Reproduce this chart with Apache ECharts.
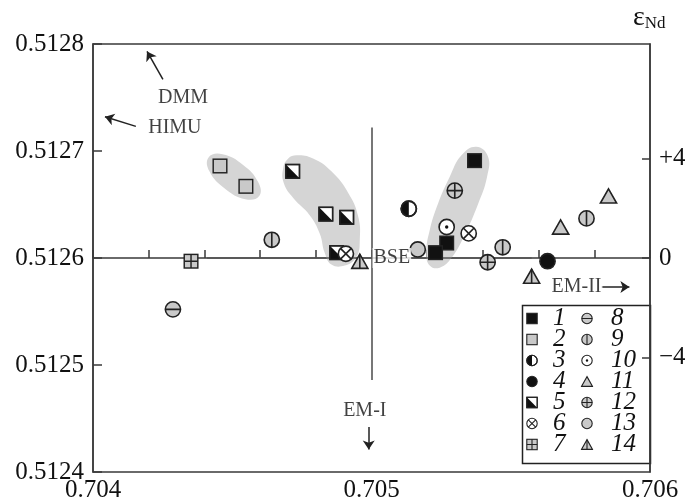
<!DOCTYPE html>
<html>
<head>
<meta charset="utf-8">
<script src="https://cdn.jsdelivr.net/npm/echarts@6/dist/echarts.min.js"></script>
<style>
  html, body { margin: 0; padding: 0; background: #fff; }
  #chart { width: 685px; height: 501px; }
</style>
</head>
<body>
<div id="chart"></div>
<script>
// 87Sr/86Sr vs 143Nd/144Nd, one array per sample group
var s1 = [[0.70537, 0.512691], [0.70527, 0.512614], [0.70523, 0.512605]];
var s2 = [[0.704456, 0.512686], [0.704549, 0.512667]];
var s3 = [[0.705134, 0.512646]];
var s4 = [[0.705632, 0.512597]];
var s5 = [[0.704717, 0.512681], [0.704836, 0.512641], [0.704911, 0.512638], [0.704875, 0.512605]];
var s6 = [[0.704908, 0.512604], [0.705349, 0.512623]];
var s7 = [[0.704352, 0.512597]];
var s8 = [[0.704287, 0.512552]];
var s9 = [[0.704642, 0.512617], [0.705471, 0.51261], [0.705772, 0.512637]];
var s10 = [[0.70527, 0.512629]];
var s11 = [[0.705679, 0.512629], [0.705851, 0.512658]];
var s12 = [[0.705299, 0.512663], [0.705417, 0.512596]];
var s13 = [[0.705166, 0.512608]];
var s14 = [[0.704958, 0.512597], [0.705575, 0.512583]];

var groupNames = ['1', '2', '3', '4', '5', '6', '7', '8', '9', '10', '11', '12', '13', '14'];
var groupData = [s1, s2, s3, s4, s5, s6, s7, s8, s9, s10, s11, s12, s13, s14];

// grey fields (outlines in data units)
var fieldA = [[0.704597, 0.512658], [0.704547, 0.512655], [0.704473, 0.512665], [0.704418, 0.512681],
  [0.704415, 0.512694], [0.704465, 0.512697], [0.704539, 0.512687], [0.704593, 0.512671]];
var fieldB = [[0.704731, 0.512696], [0.70479, 0.512693], [0.704856, 0.512681], [0.704916, 0.512661],
  [0.704952, 0.512639], [0.704958, 0.512617], [0.704946, 0.512601], [0.704904, 0.512593],
  [0.704856, 0.512594], [0.704832, 0.512605], [0.704814, 0.512623], [0.704778, 0.51264],
  [0.704719, 0.512656], [0.704685, 0.51267], [0.704683, 0.512684], [0.704701, 0.512693]];
var fieldC = [[0.705376, 0.512704], [0.705418, 0.512695], [0.705415, 0.512676], [0.705382, 0.51265],
  [0.705335, 0.512622], [0.705287, 0.5126], [0.705245, 0.512591], [0.705209, 0.512593],
  [0.705197, 0.512605], [0.705209, 0.512626], [0.705239, 0.512651], [0.705281, 0.512676],
  [0.705323, 0.512696]];
var fields = [fieldA, fieldB, fieldC];

// BSE cross and reservoir arrows
var bseLines = [
  [[0.704409, 0.5126], [0.705575, 0.5126]],
  [[0.705, 0.512722], [0.705, 0.512486]]
];
var arrows = [
  [[0.704251, 0.512767], [0.704194, 0.512793]],
  [[0.704154, 0.512723], [0.704043, 0.512732]],
  [[0.70499, 0.512442], [0.70499, 0.512421]],
  [[0.705826, 0.512573], [0.705926, 0.512573]]
];
var noteNames = ['DMM', 'HIMU', 'EM-I', 'EM-II', 'BSE'];
var notePoints = [[0.704323, 0.51275], [0.704294, 0.512722], [0.704976, 0.512457], [0.705736, 0.512573], [0.705073, 0.5126]];

var epsTicks = [-4, 0, 4];

var font = '"Liberation Serif", "Times New Roman", serif';
var ink = '#111';
var grey = '#c9c9c9';
var axisInk = '#3a3a3a';

function svg(body) {
  return 'image://data:image/svg+xml;charset=utf-8,' + encodeURIComponent(
    '<svg xmlns="http://www.w3.org/2000/svg" width="60" height="60" viewBox="0 0 20 20">' + body + '</svg>');
}
var S = 'stroke="#222" stroke-width="1.7"';
function rect(f) { return '<rect x="2" y="2" width="16" height="16" fill="' + f + '" ' + S + '/>'; }
function circ(f) { return '<circle cx="10" cy="10" r="8" fill="' + f + '" ' + S + '/>'; }
function tri(f) { return '<polygon points="10,2.5 18.5,17.5 1.5,17.5" fill="' + f + '" ' + S + '/>'; }
function ln(a, b, c, d) { return '<line x1="' + a + '" y1="' + b + '" x2="' + c + '" y2="' + d + '" ' + S + '/>'; }

var icons = [
  svg(rect(ink)),
  svg(rect(grey)),
  svg(circ('#fff') + '<path d="M10 2A8 8 0 0 0 10 18Z" fill="#111"/>' + circ('none')),
  svg(circ(ink)),
  svg(rect('#fff') + '<polygon points="2,2 2,18 18,18" fill="#111"/>' + rect('none')),
  svg(circ('#fff') + ln(4.3, 4.3, 15.7, 15.7) + ln(15.7, 4.3, 4.3, 15.7)),
  svg(rect(grey) + ln(10, 2, 10, 18) + ln(2, 10, 18, 10)),
  svg(circ(grey) + ln(2, 10, 18, 10)),
  svg(circ(grey) + ln(10, 2, 10, 18)),
  svg(circ('#fff') + '<circle cx="10" cy="10" r="1.8" fill="#111"/>'),
  svg(tri(grey)),
  svg(circ(grey) + ln(10, 2, 10, 18) + ln(2, 10, 18, 10)),
  svg(circ(grey)),
  svg(tri(grey) + ln(10, 2.5, 10, 17.5))
];
var sizes = [17, 17, 19, 19, 17, 19, 17, 19, 19, 19, 19, 19, 19, 19];

var chart = echarts.init(document.getElementById('chart'));

var series = [];
series.push({
  type: 'custom',
  name: 'fields',
  silent: true,
  clip: false,
  data: fields.map(function (f) { return f[0]; }),
  renderItem: function (params, api) {
    var pts = fields[params.dataIndex].map(function (p) { return api.coord(p); });
    return { type: 'polygon', shape: { points: pts, smooth: 0.45 }, style: { fill: '#d5d5d5' } };
  },
  z: 1
});
series.push({
  type: 'lines',
  name: 'bse',
  coordinateSystem: 'cartesian2d',
  silent: true,
  symbol: 'none',
  lineStyle: { color: '#555', width: 1.6, opacity: 1 },
  data: bseLines.map(function (c) { return { coords: c }; }),
  z: 2
});
groupNames.forEach(function (n, i) {
  series.push({
    type: 'scatter',
    name: n,
    symbol: icons[i],
    symbolSize: sizes[i],
    itemStyle: { opacity: 1 },
    data: groupData[i],
    z: 3
  });
});
series.push({
  type: 'lines',
  name: 'arrows',
  coordinateSystem: 'cartesian2d',
  silent: true,
  symbol: ['none', 'arrow'],
  symbolSize: [0, 9],
  lineStyle: { color: '#222', width: 1.5, opacity: 1 },
  data: arrows.map(function (c) { return { coords: c }; }),
  z: 4
});
series.push({
  type: 'scatter',
  name: 'notes',
  silent: true,
  symbolSize: 0,
  data: noteNames.map(function (n, i) { return { name: n, value: notePoints[i] }; }),
  label: {
    show: true,
    position: 'inside',
    formatter: '{b}',
    fontFamily: font,
    fontSize: 20,
    color: '#111',
    backgroundColor: '#fff',
    padding: [0, 1]
  },
  z: 5
});

var legendText = { fontFamily: font, fontStyle: 'italic', fontSize: 25, color: '#111' };

chart.setOption({
  animation: false,
  backgroundColor: '#fff',
  grid: {
    left: 93, right: 35, top: 44, bottom: 29,
    show: true, borderColor: axisInk, borderWidth: 1.5,
    outerBoundsMode: 'none'
  },
  xAxis: {
    type: 'value', min: 0.704, max: 0.706, interval: 0.0002,
    axisLine: { show: true, lineStyle: { color: axisInk, width: 1.5 } },
    axisTick: { show: true, inside: true, length: 8, lineStyle: { color: axisInk, width: 1.5 } },
    axisLabel: {
      margin: 6, fontFamily: font, fontSize: 25, color: '#111',
      formatter: function (v) {
        return Math.abs(v * 1000 - Math.round(v * 1000)) < 1e-6 ? v.toFixed(3) : '';
      }
    },
    splitLine: { show: false }
  },
  yAxis: [{
    type: 'value', min: 0.5124, max: 0.5128, interval: 0.0001,
    axisLine: { show: true, lineStyle: { color: axisInk, width: 1.5 } },
    axisTick: { show: true, inside: true, length: 9, lineStyle: { color: axisInk, width: 1.5 } },
    axisLabel: { margin: 9, fontFamily: font, fontSize: 25, color: '#111',
      formatter: function (v) { return v.toFixed(4); } },
    splitLine: { show: false }
  }, {
    type: 'value', min: -8.6, max: 8.6, position: 'right',
    axisLine: { show: true, lineStyle: { color: axisInk, width: 1.5 } },
    axisTick: { show: true, inside: true, length: 8, customValues: epsTicks, lineStyle: { color: axisInk, width: 1.5 } },
    axisLabel: { margin: 9, fontFamily: font, fontSize: 25, color: '#111', customValues: epsTicks,
      formatter: function (v) { return v > 0 ? '+' + v : (v < 0 ? '\u2212' + (-v) : '0'); } },
    splitLine: { show: false }
  }],
  legend: [{
    orient: 'vertical', left: 516, top: 306, padding: 0, itemGap: -4,
    itemWidth: 32, itemHeight: 13, symbolKeepAspect: true,
    selectedMode: false,
    itemStyle: { opacity: 1 },
    textStyle: legendText,
    data: groupNames.slice(0, 7).map(function (n, i) { return { name: n, icon: icons[i] }; })
  }, {
    orient: 'vertical', left: 568, top: 306, padding: 0, itemGap: -4,
    itemWidth: 38, itemHeight: 13, symbolKeepAspect: true,
    selectedMode: false,
    itemStyle: { opacity: 1 },
    textStyle: legendText,
    data: groupNames.slice(7).map(function (n, i) { return { name: n, icon: icons[i + 7] }; })
  }],
  graphic: [{
    type: 'rect', left: 520, top: 303, silent: true,
    shape: { width: 128, height: 158 },
    style: { fill: 'none', stroke: '#222', lineWidth: 1.5 }
  }, {
    type: 'text', left: 633, top: 4, silent: true,
    style: {
      text: '{e|\u03b5}{s|Nd}',
      rich: {
        e: { fontFamily: font, fontSize: 28, fill: '#111' },
        s: { fontFamily: font, fontSize: 17, fill: '#111', padding: [12, 0, 0, 0] }
      }
    }
  }],
  series: series
});
</script>
</body>
</html>
